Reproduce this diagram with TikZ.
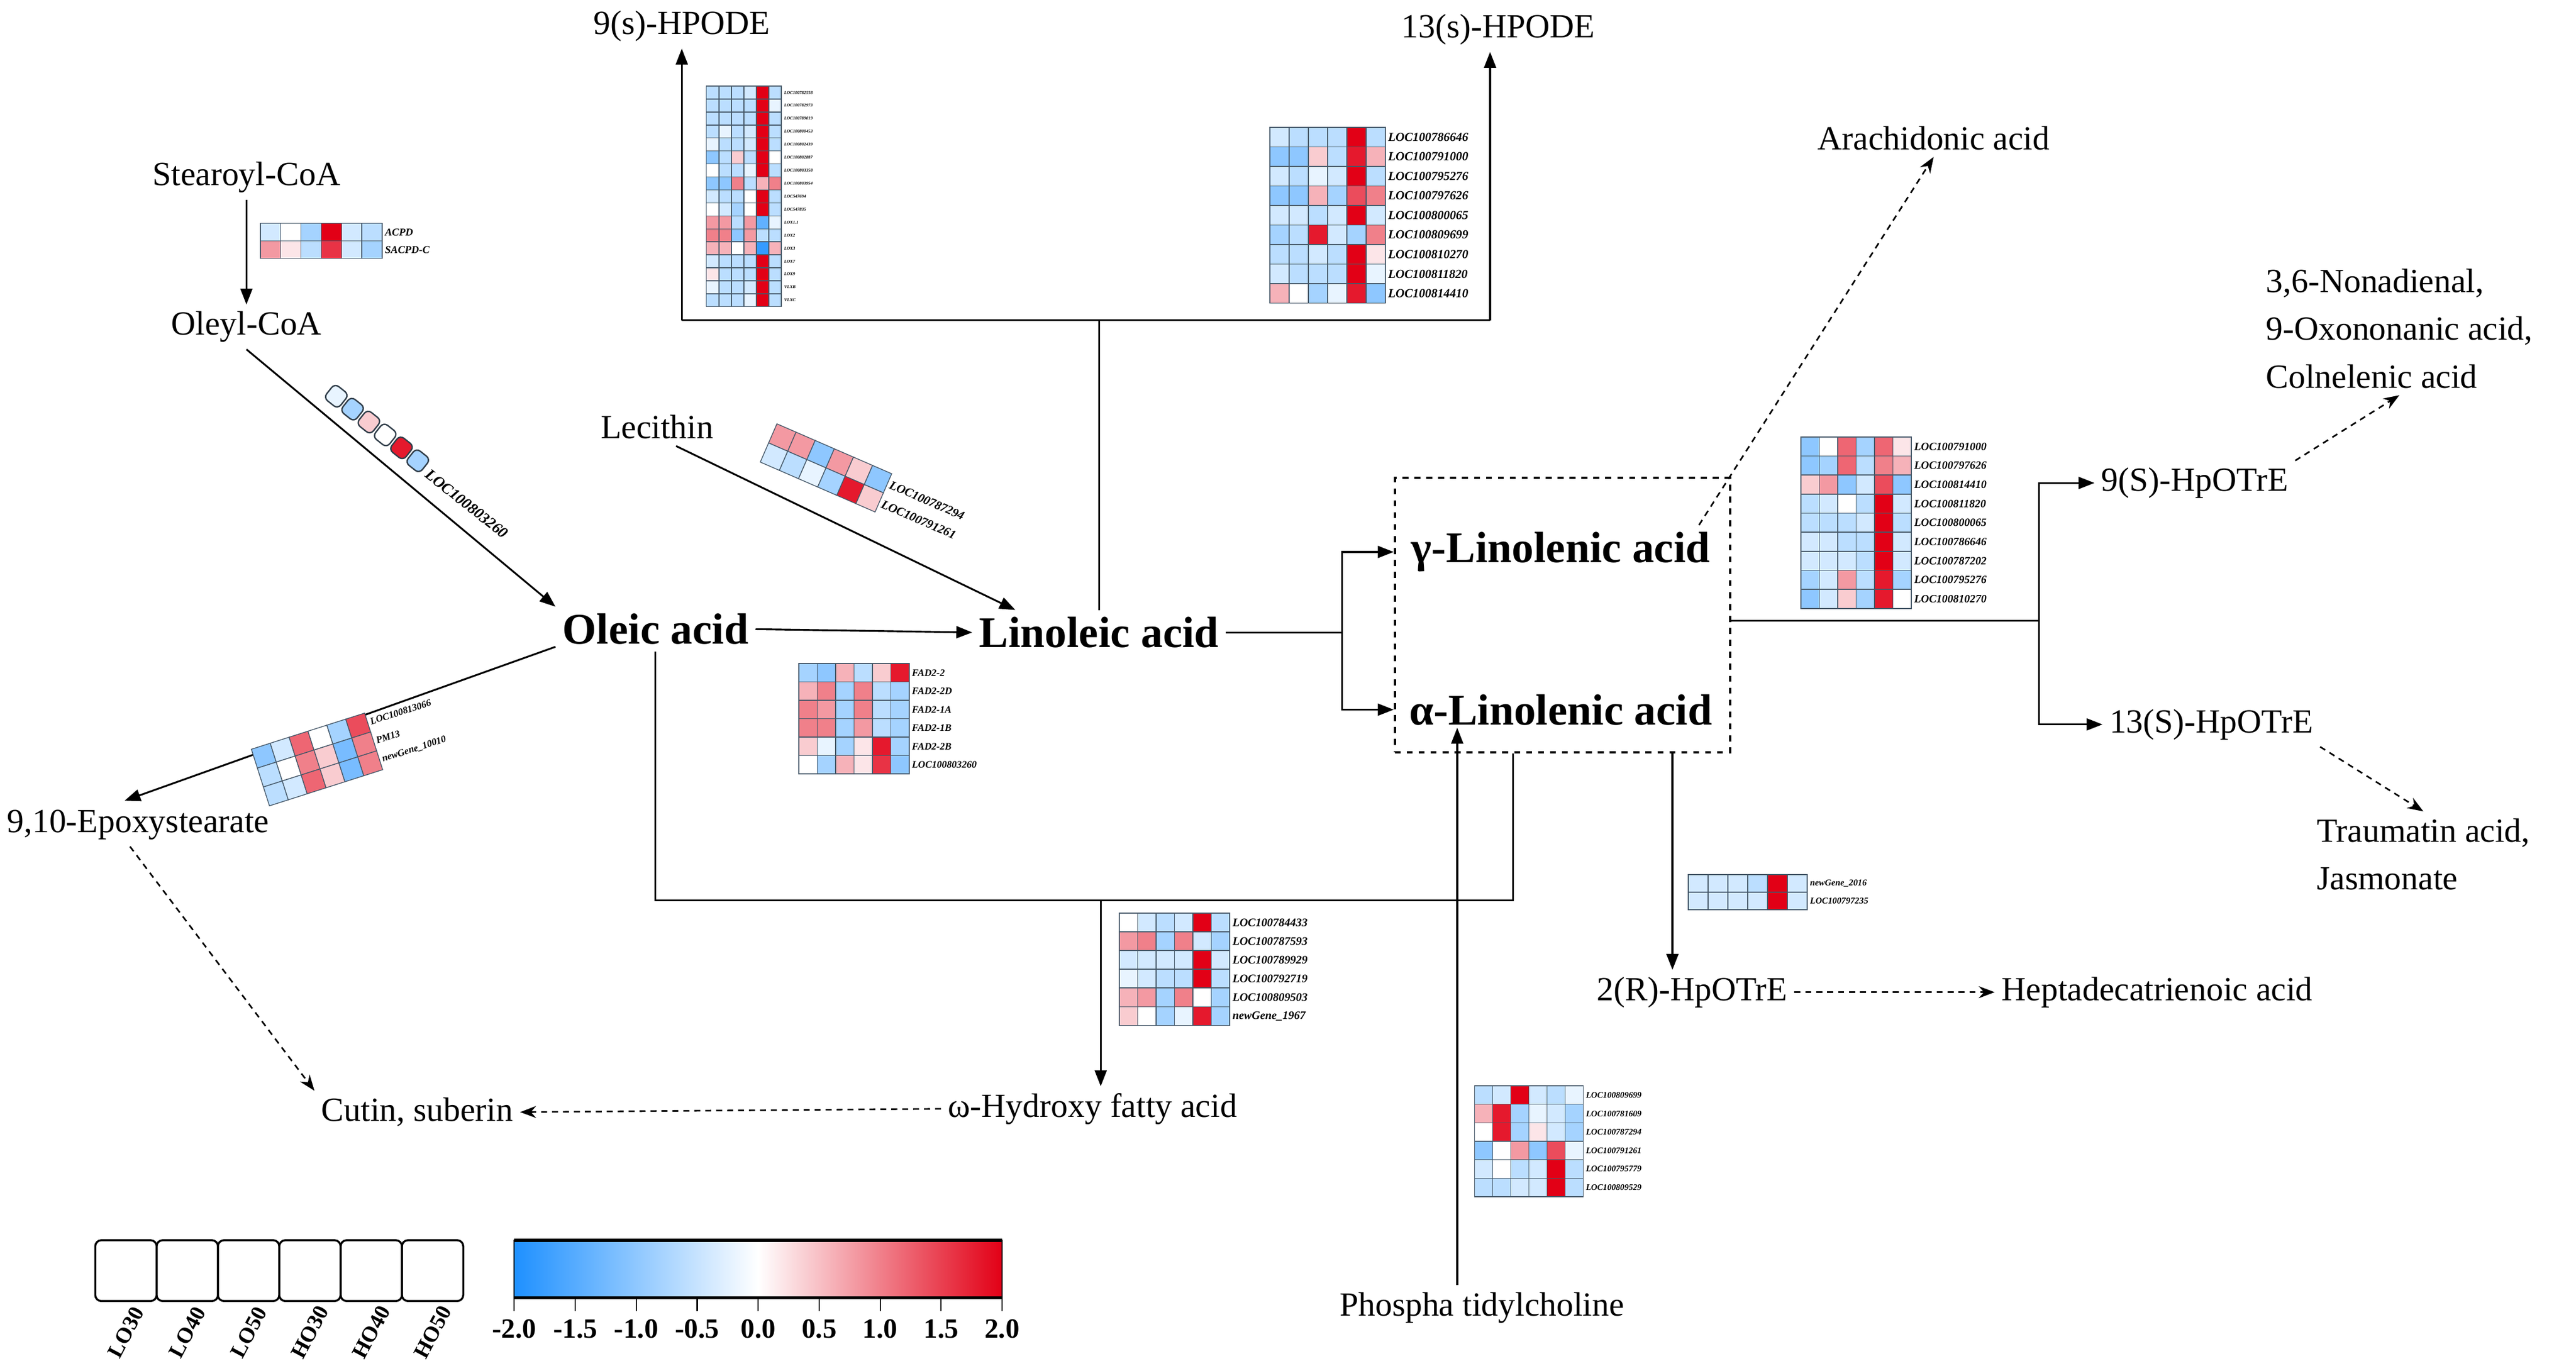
\documentclass[tikz,border=0pt]{standalone}
\usepackage{fontspec}
\setmainfont{Liberation Serif}
\usetikzlibrary{arrows.meta,positioning,fit}

\definecolor{hmblue}{RGB}{30,144,255}
\definecolor{hmred}{RGB}{226,0,22}
\definecolor{gridc}{RGB}{70,88,105}

\newcommand{\cellcol}[1]{%
  \ifnum#1<0 \edef\hc{hmblue!\the\numexpr-10*(#1)\relax!white}%
  \else\edef\hc{hmred!\the\numexpr10*(#1)\relax!white}\fi}

% #1 name, #2 scope, #3 cell w, #4 cell h, #5 font size, #6 rows, #7 genes
\newcommand{\hmap}[7]{%
  \begin{scope}[#2]
    \foreach \row [count=\r] in {#6} {
      \foreach \v [count=\c] in \row {
        \cellcol{\v}
        \filldraw[fill=\hc, draw=gridc, line width=0.4pt]
          ({(\c-1)*#3},{(\r-1)*#4}) rectangle ++(#3,#4);
      }
    }
    \foreach \g [count=\r] in {#7}
      \node[genelab, transform shape, font=\fontsize{#5}{#5}\selectfont\bfseries\itshape]
        (#1-\r) at ({6*#3+1.5},{(\r-0.5)*#4}) {\g};
  \end{scope}}

\begin{document}
\begin{tikzpicture}[x=0.02902cm, y=-0.02902cm,
    met/.style={font=\fontsize{17}{24}\selectfont},
    keymet/.style={font=\fontsize{22}{26}\selectfont\bfseries},
    genelab/.style={anchor=west, inner sep=0pt},
    conn/.style={line width=0.9pt},
    arr/.style={-{Triangle[length=8pt,width=6pt]}, line width=0.9pt},
    dasharr/.style={-{Stealth[length=8pt,width=6pt]}, line width=0.8pt, dash pattern=on 3pt off 2.5pt}]
  \useasboundingbox (0,0) rectangle (1568,831.5);

  \node[met] (h9) at (415,16) {9(s)-HPODE};
  \node[met] (h13) at (912,18) {13(s)-HPODE};
  \node[met] (ara) at (1177,84) {Arachidonic acid};
  \node[met] (ste) at (150,108) {Stearoyl-CoA};
  \node[met, below=1.85cm of ste] (oley) {Oleyl-CoA};
  \node[met, align=left, anchor=west] (non) at (1375,200) {3,6-Nonadienal,\\9-Oxononanic acid,\\Colnelenic acid};
  \node[met] (lec) at (400,260) {Lecithin};
  \node[met] (hp9) at (1336,294) {9(S)-HpOTrE};
  \node[keymet] (ole) at (399,383) {Oleic acid};
  \node[keymet] (lin) at (669,385) {Linoleic acid};
  \node[keymet] (gla) at (950,336) {γ-Linolenic acid};
  \node[keymet] (ala) at (950,432) {α-Linolenic acid};
  \node[draw, dashed, line width=1.1pt, inner sep=0pt, fit={(849,291) (1053,458)}] (box) {};
  \node[met] (hp13) at (1346,441) {13(S)-HpOTrE};
  \node[met, align=left, anchor=west] (tra) at (1406,520) {Traumatin acid,\\Jasmonate};
  \node[met] (epo) at (84,502) {9,10-Epoxystearate};
  \node[met] (hp2) at (1030,604) {2(R)-HpOTrE};
  \node[met] (hep) at (1313,604) {Heptadecatrienoic acid};
  \node[met] (cut) at (254,677) {Cutin, suberin};
  \node[met] (ohf) at (665,675) {ω-Hydroxy fatty acid};
  \node[met] (pc) at (902,796) {Phospha tidylcholine};

  \coordinate (tl) at (415,195);
  \coordinate (tr) at (907,195);
  \coordinate (sl) at (817,385);
  \coordinate (sr) at (1241,378);
  \coordinate (rd) at (1018,458);
  \coordinate (pu) at (887,443);
  \coordinate (bm) at (670,548);
  \coordinate (br) at (921,548);

  \draw[arr] (ste.south) -- (oley.north);
  \draw[arr] (oley.south) -- (ole.north west);
  \draw[arr] (lec.-45) -- (lin.165);
  \draw[arr] (ole.east) -- (lin.west);
  \draw[arr, shorten >=3pt] (ole.190) -- (epo.131);
  \draw[conn] (lin.north) |- (tl) -- (tr);
  \draw[arr] (tl) -- (tl |- h9.south);
  \draw[arr] (tr) -- (tr |- h13.south);
  \draw[conn] (lin.east) -- (sl);
  \draw[arr] (sl) |- (box.west |- gla);
  \draw[arr] (sl) |- (box.west |- ala);
  \draw[conn] (box.east |- sr) -- (sr);
  \draw[arr] (sr) |- (hp9.west);
  \draw[arr] (sr) |- (hp13.west);
  \draw[dasharr] (gla.11) -- (ara.south);
  \draw[dasharr] (hp9.north east) -- (non.south);
  \draw[dasharr] (hp13.south east) -- (tra.north);
  \draw[arr] (rd) -- (rd |- hp2.north);
  \draw[dasharr] (hp2.east) -- (hep.west);
  \draw[arr] (pc.north -| pu) -- (pu);
  \draw[conn] (ole.south) |- (br) -- (br |- box.south);
  \draw[arr] (bm) -- (bm |- ohf.north);
  \draw[dasharr] (ohf.west) -- (cut.east);
  \draw[dasharr] (epo.-110) -- (cut.north west);

  \hmap{ha}{shift={(430,52.4)}}{7.6}{7.9}{2.2}
    {{-3,-3,-3,-2,10,-3},{-3,-3,-3,-3,10,-1},{-3,-3,-3,-3,10,-3},{-3,-1,-3,-2,10,-3},
     {-1,-3,-3,-2,10,-3},{-5,-3,2,-3,10,0},{0,-3,-3,-1,10,-3},{-5,-5,5,-3,3,5},
     {-2,-3,-3,0,10,-3},{0,-2,-4,0,10,-3},{4,4,-3,4,-7,-1},{5,5,-5,4,-3,-3},
     {3,3,0,3,-9,3},{-2,-3,-3,-3,10,-3},{1,-3,-3,-3,10,-3},{-1,-3,-3,-2,10,-3},
     {-3,-3,-3,-1,10,-3}}
    {LOC100782558,LOC100782973,LOC100789019,LOC100800453,LOC100802439,LOC100802887,
     LOC100803358,LOC100803954,LOC547694,LOC547835,LOX1.1,LOX2,LOX3,LOX7,LOX9,VLXB,VLXC}
  \hmap{hb}{shift={(773,77.5)}}{11.7}{11.9}{6.2}
    {{-2,-3,-3,-3,10,-3},{-5,-5,2,-3,9,3},{-2,-3,-1,-2,10,-3},{-5,-5,3,-4,7,5},
     {-2,-2,-3,-2,10,-2},{-4,-3,9,-2,-4,5},{-3,-3,-2,-3,10,1},{-2,-3,-3,-3,10,-1},
     {3,0,-4,-1,9,-5}}
    {LOC100786646,LOC100791000,LOC100795276,LOC100797626,LOC100800065,LOC100809699,
     LOC100810270,LOC100811820,LOC100814410}
  \hmap{hc}{shift={(158.5,136)}}{12.35}{10.7}{5.3}
    {{-2,0,-4,10,-2,-3},{4,1,-3,8,-2,-4}}{ACPD,SACPD-C}
  \hmap{he}{shift={(472.9,258)},rotate=-23.5}{12.7}{12.7}{6.2}
    {{4,4,-5,4,2,-5},{-2,-3,-1,-4,9,2}}{LOC100787294,LOC100791261}
  \hmap{hf}{shift={(486.2,403.9)}}{11.2}{11.2}{5}
    {{-4,-5,3,-3,2,9},{3,5,-4,5,-3,-4},{5,4,-4,5,-3,-4},{5,5,-4,4,-3,-4},
     {2,-1,-4,1,9,-4},{0,-4,3,1,8,-5}}
    {FAD2-2,FAD2-2D,FAD2-1A,FAD2-1B,FAD2-2B,LOC100803260}
  \hmap{hg}{shift={(153,456.1)},rotate=17.7}{12.06}{12.06}{4.9}
    {{-5,-2,6,0,-4,7},{-3,0,5,2,-6,5},{-3,-2,6,2,-6,5}}
    {LOC100813066,PM13,newGene\_10010}
  \hmap{hh}{shift={(681.3,555.8)}}{11.2}{11.4}{5.8}
    {{0,-2,-3,-2,10,-3},{4,5,-4,5,-2,-4},{-2,-2,-2,-2,10,-2},{-1,-2,-3,-3,10,-3},
     {3,4,-4,5,0,-4},{2,0,-4,-1,9,-4}}
    {LOC100784433,LOC100787593,LOC100789929,LOC100792719,LOC100809503,newGene\_1967}
  \hmap{hi}{shift={(1096.2,266)}}{11.2}{11.6}{5.6}
    {{-5,0,6,-4,6,1},{-5,-4,6,-3,5,3},{2,4,-5,-2,7,-5},{-3,-2,0,-3,10,-2},
     {-3,-3,-3,-2,10,-3},{-2,-2,-3,-3,10,-2},{-2,-2,-2,-3,10,-2},{-4,-2,4,-3,9,-4},
     {-5,-2,2,-4,9,0}}
    {LOC100791000,LOC100797626,LOC100814410,LOC100811820,LOC100800065,LOC100786646,
     LOC100787202,LOC100795276,LOC100810270}
  \hmap{hj}{shift={(1027.6,532.4)}}{12.07}{10.7}{4.5}
    {{-2,-2,-2,-3,10,-2},{-2,-2,-2,-2,10,-2}}{newGene\_2016,LOC100797235}
  \hmap{hk}{shift={(897.6,661)}}{11}{11.25}{4.3}
    {{-3,-2,10,-2,-3,-1},{3,9,-4,-1,-2,-4},{0,9,-4,1,-2,-4},{-5,0,4,-5,7,-1},
     {-2,0,-3,-2,10,-3},{-3,-3,-2,-2,10,-3}}
    {LOC100809699,LOC100781609,LOC100787294,LOC100791261,LOC100795779,LOC100809529}

  \begin{scope}[shift={(204.7,241.2)}, rotate=-38.4]
    \foreach \v [count=\c] in {-1,-4,2,0,9,-4} {
      \cellcol{\v}
      \filldraw[fill=\hc, draw=gridc!70!black, line width=0.7pt, rounded corners=2.5pt]
        ({(\c-1)*12.66-5.5},-5.5) rectangle ++(11,11);
    }
    \node[genelab, transform shape, font=\fontsize{7.8}{7.8}\selectfont\bfseries\itshape]
      (hd-1) at (72,2) {LOC100803260};
  \end{scope}

  \foreach \t [count=\i] in {LO30,LO40,LO50,HO30,HO40,HO50} {
    \draw[line width=1pt, rounded corners=3pt] ({58+(\i-1)*37.33},755) rectangle ++(37.33,37);
    \node[font=\fontsize{11}{11}\selectfont\bfseries, rotate=62, inner sep=0pt]
      (lg\i) at ({58+(\i-0.5)*37.33},811) {\t};
  }
  \shade[left color=hmblue, right color=hmred, middle color=white] (313,755) rectangle (610,790);
  \draw[line width=0.6pt] (313,755) rectangle (610,790);
  \draw[line width=1.6pt] (313,755) -- (610,755) (313,790) -- (610,790);
  \foreach \t [count=\i from 0] in {-2.0,-1.5,-1.0,-0.5,0.0,0.5,1.0,1.5,2.0} {
    \draw[line width=0.6pt] ({313+\i*37.125},790) -- ++(0,8);
    \node[font=\fontsize{14}{14}\selectfont\bfseries, inner sep=1pt] (tk\i) at ({313+\i*37.125},809) {\t};
  }
\end{tikzpicture}
\end{document}
